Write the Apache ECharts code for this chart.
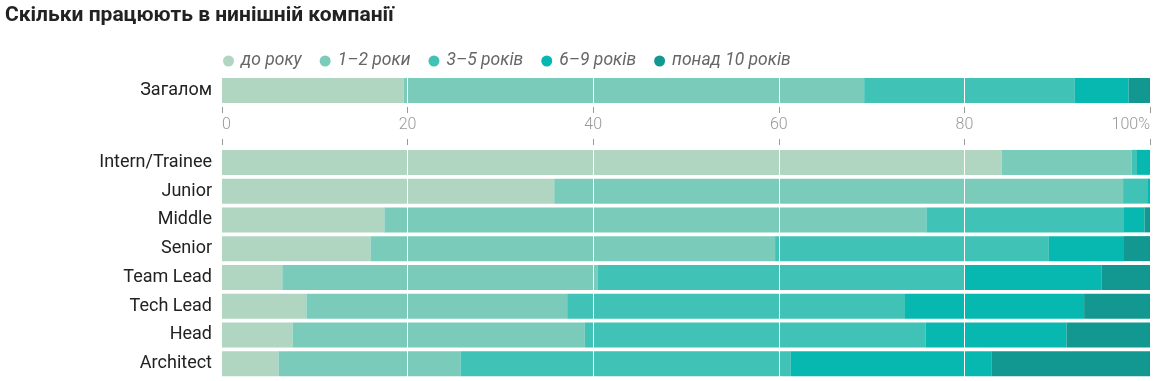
<!DOCTYPE html>
<html>
<head>
<meta charset="utf-8">
<script src="https://cdn.jsdelivr.net/npm/echarts@6/dist/echarts.min.js"></script>
<style>
html,body{margin:0;padding:0;background:#fff;}
#c{width:1154px;height:381px;}
</style>
</head>
<body>
<div id="c"></div>
<script>
const title = 'Скільки працюють в нинішній компанії';
const seriesNames = ['до року', '1–2 роки', '3–5 років', '6–9 років', 'понад 10 років'];
const colors = ['#b0d6c2', '#7bcbbb', '#41c2b6', '#07b8b1', '#139891'];
const totalCategory = ['Загалом'];
const totalValues = [19.6, 49.6, 22.7, 5.8, 2.3];
const categories = ['Intern/Trainee', 'Junior', 'Middle', 'Senior', 'Team Lead', 'Tech Lead', 'Head', 'Architect'];
const lessThanYear = [84.0, 35.8, 17.5, 16.0, 6.5, 9.1, 7.6, 6.1];
const oneToTwo     = [14.0, 61.3, 58.4, 43.6, 34.0, 28.1, 31.5, 19.6];
const threeToFive  = [0.6, 2.6, 21.3, 29.5, 39.5, 36.4, 36.7, 35.6];
const sixToNine    = [1.4, 0.3, 2.2, 8.1, 14.8, 19.3, 15.2, 21.6];
const tenPlus      = [0.0, 0.0, 0.6, 2.8, 5.2, 7.1, 9.0, 17.1];
const tickValues = [0, 20, 40, 60, 80, 100];

const groupValues = [lessThanYear, oneToTwo, threeToFive, sixToNine, tenPlus];

const chart = echarts.init(document.getElementById('c'));
const FONT = 'Roboto';

const series = [];
seriesNames.forEach((n, i) => {
  series.push({
    name: n, type: 'bar', stack: 'total', xAxisIndex: 0, yAxisIndex: 0,
    barWidth: 25, data: [totalValues[i]], itemStyle: { color: colors[i] },
    emphasis: { disabled: true }
  });
});
seriesNames.forEach((n, i) => {
  series.push({
    name: n, type: 'bar', stack: 'groups', xAxisIndex: 1, yAxisIndex: 1,
    barWidth: 25, data: groupValues[i], itemStyle: { color: colors[i] },
    emphasis: { disabled: true }
  });
});

const xBase = {
  type: 'value', min: tickValues[0], max: tickValues[tickValues.length - 1], interval: 20, z: 10,
  axisLine: { show: false },
  splitLine: { show: true, showMinLine: false, showMaxLine: false, lineStyle: { color: '#ffffff', width: 1 } }
};

chart.setOption({
  animation: false,
  color: colors,
  title: {
    text: title, left: 0, top: 0,
    textStyle: { fontFamily: FONT, fontWeight: 'bold', fontSize: 21, color: '#222' }
  },
  legend: {
    data: seriesNames, left: 218, top: 47,
    icon: 'circle', itemWidth: 11, itemHeight: 11, itemGap: 18,
    textStyle: { fontFamily: FONT, fontStyle: 'italic', fontSize: 17.5, color: '#666', padding: [0, 0, 0, 2] }
  },
  grid: [
    { left: 222, right: 4, top: 78, height: 25 },
    { left: 222, right: 4, top: 148, height: 230 }
  ],
  xAxis: [
    Object.assign({}, xBase, {
      gridIndex: 0, position: 'bottom', offset: 4,
      axisTick: { show: true, length: 6, lineStyle: { color: '#999' } },
      axisLabel: {
        show: true, margin: 10, fontFamily: FONT, fontSize: 16, fontWeight: 300, color: '#999',
        alignMinLabel: 'left', alignMaxLabel: 'right',
        formatter: v => v === 100 ? '100%' : String(v)
      }
    }),
    Object.assign({}, xBase, {
      gridIndex: 1, position: 'top', offset: 3,
      axisTick: { show: true, length: 6, lineStyle: { color: '#999' } },
      axisLabel: { show: false }
    })
  ],
  yAxis: [
    {
      type: 'category', gridIndex: 0, data: totalCategory, inverse: true,
      axisLine: { show: false }, axisTick: { show: false },
      axisLabel: { margin: 10, fontFamily: FONT, fontSize: 18, color: '#222' }
    },
    {
      type: 'category', gridIndex: 1, data: categories, inverse: true,
      axisLine: { show: false }, axisTick: { show: false },
      axisLabel: { margin: 10, fontFamily: FONT, fontSize: 18, color: '#222' }
    }
  ],
  series: series
});
</script>
</body>
</html>
